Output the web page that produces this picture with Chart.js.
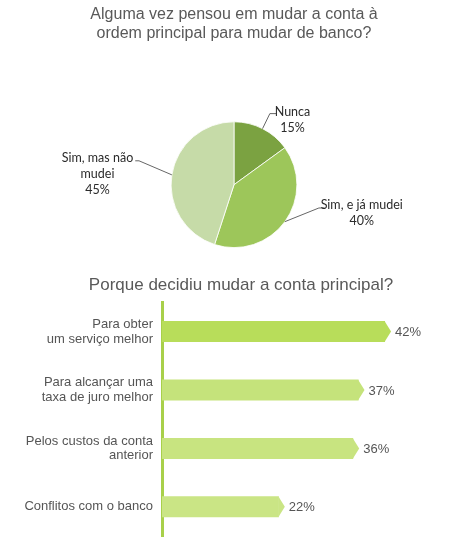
<!DOCTYPE html>
<html>
<head>
<meta charset="utf-8">
<script src="https://cdn.jsdelivr.net/npm/chart.js@4/dist/chart.umd.min.js"></script>
<style>
  html, body { margin: 0; padding: 0; background: #fff; overflow: hidden; }
  #wrap { position: relative; width: 470px; height: 543px; overflow: hidden; }
  #pieBox { position: absolute; left: 0; top: 0; width: 470px; height: 268px; }
  #barBox { position: absolute; left: 0; top: 268px; width: 470px; height: 292px; }
</style>
</head>
<body>
<div id="wrap">
  <div id="pieBox"><canvas id="pieChart"></canvas></div>
  <div id="barBox"><canvas id="barChart"></canvas></div>
</div>
<script>
// pie: alguma vez pensou em mudar
var pieTitle = ['Alguma vez pensou em mudar a conta à', 'ordem principal para mudar de banco?'];
var pieLabels = [['Nunca'], ['Sim, e já mudei'], ['Sim, mas não', 'mudei']];
var pieValues = [15, 40, 45];
var pieColors = ['#7ba241', '#9dc65a', '#c6dba8'];

// bars: porque decidiu mudar
var barTitle = 'Porque decidiu mudar a conta principal?';
var barLabels = [
  ['Para obter', 'um serviço melhor'],
  ['Para alcançar uma', 'taxa de juro melhor'],
  ['Pelos custos da conta', 'anterior'],
  ['Conflitos com o banco']
];
var barValues = [42, 37, 36, 22];
var barColors = ['#b8dd5a', '#c5e37b', '#c8e480', '#cae585'];
var barTicks = [0, 58];

var labelFont = '12.5px Lato, "Liberation Sans", sans-serif';
var textGrey = '#595959';

// leader line + label placement for each slice, in radius units from the pie centre
var pieCallouts = [
  { at: 0.5, elbow: [0.57, -1.13], end: [0.67, -1.13], text: [0.93, -1.16], align: 'center' },
  { at: 0.5, elbow: [1.35, 0.37], end: [1.44, 0.37], text: [2.03, 0.33], align: 'center' },
  { at: 0.5, elbow: [-1.51, -0.38], end: [-1.57, -0.38], text: [-2.17, -0.43], align: 'center' }
];

var pieCalloutPlugin = {
  id: 'pieCallouts',
  afterDatasetsDraw: function (chart) {
    var ctx = chart.ctx;
    var meta = chart.getDatasetMeta(0);
    ctx.save();
    meta.data.forEach(function (arc, i) {
      var c = pieCallouts[i];
      var r = arc.outerRadius;
      var a = arc.startAngle + (arc.endAngle - arc.startAngle) * c.at;
      var sx = arc.x + Math.cos(a) * r;
      var sy = arc.y + Math.sin(a) * r;
      ctx.strokeStyle = '#666';
      ctx.lineWidth = 1;
      ctx.beginPath();
      ctx.moveTo(sx, sy);
      ctx.lineTo(arc.x + c.elbow[0] * r, arc.y + c.elbow[1] * r);
      ctx.lineTo(arc.x + c.end[0] * r, arc.y + c.end[1] * r);
      ctx.stroke();

      var lines = pieLabels[i].concat([pieValues[i] + '%']);
      ctx.fillStyle = '#2b2b2b';
      ctx.font = labelFont;
      ctx.textAlign = c.align;
      ctx.textBaseline = 'middle';
      var tx = arc.x + c.text[0] * r;
      var ty = arc.y + c.text[1] * r;
      lines.forEach(function (ln, k) {
        ctx.fillText(ln, tx, ty + k * 16);
      });
    });
    ctx.restore();
  }
};

new Chart(document.getElementById('pieChart'), {
  type: 'pie',
  data: {
    labels: pieLabels.map(function (l) { return l.join(' '); }),
    datasets: [{
      data: pieValues,
      backgroundColor: pieColors,
      borderColor: '#ffffff',
      borderWidth: 0.8
    }]
  },
  options: {
    responsive: true,
    maintainAspectRatio: false,
    animation: false,
    layout: { padding: { left: 4, right: 6, top: 0, bottom: 20 } },
    plugins: {
      legend: { display: false },
      tooltip: { enabled: false },
      title: {
        display: true,
        text: pieTitle,
        color: textGrey,
        font: { family: '"Liberation Sans", Arial, sans-serif', size: 16, weight: 'normal', lineHeight: 1.2 },
        padding: { top: 5, bottom: 78 }
      }
    }
  },
  plugins: [pieCalloutPlugin]
});

// arrow tip on the end of each bar, plus the value label
var barArrowPlugin = {
  id: 'barArrows',
  afterDatasetsDraw: function (chart) {
    var ctx = chart.ctx;
    var meta = chart.getDatasetMeta(0);
    ctx.save();
    meta.data.forEach(function (bar, i) {
      var h = bar.height;
      var top = bar.y - h / 2;
      var tip = 6;
      ctx.fillStyle = barColors[i];
      ctx.beginPath();
      ctx.moveTo(bar.x - 0.5, top);
      ctx.lineTo(bar.x + tip, bar.y);
      ctx.lineTo(bar.x - 0.5, top + h);
      ctx.closePath();
      ctx.fill();

      ctx.fillStyle = '#555';
      ctx.font = '13px "Liberation Sans", Arial, sans-serif';
      ctx.textAlign = 'left';
      ctx.textBaseline = 'middle';
      ctx.fillText(barValues[i] + '%', bar.x + tip + 4, bar.y + 1);
    });
    ctx.restore();
  }
};

new Chart(document.getElementById('barChart'), {
  type: 'bar',
  data: {
    labels: barLabels,
    datasets: [{
      data: barValues,
      backgroundColor: barColors,
      borderWidth: 0,
      barPercentage: 0.72,
      categoryPercentage: 0.5
    }]
  },
  options: {
    indexAxis: 'y',
    responsive: true,
    maintainAspectRatio: false,
    animation: false,
    layout: { padding: { left: 12, right: 0, top: 0, bottom: 6 } },
    scales: {
      x: {
        display: false,
        min: barTicks[0],
        max: barTicks[1]
      },
      y: {
        grid: { display: false, drawTicks: false },
        border: { display: true, color: '#a8d04a', width: 3 },
        ticks: {
          color: '#555',
          padding: 9,
          font: { family: '"Liberation Sans", Arial, sans-serif', size: 13, lineHeight: 1.15 }
        },
        afterFit: function (scale) { scale.width = 150; }
      }
    },
    plugins: {
      legend: { display: false },
      tooltip: { enabled: false },
      title: {
        display: true,
        text: barTitle,
        color: textGrey,
        font: { family: '"Liberation Sans", Arial, sans-serif', size: 17, weight: 'normal', lineHeight: 1.2 },
        padding: { top: 7, bottom: 7 }
      }
    }
  },
  plugins: [barArrowPlugin]
});
</script>
</body>
</html>
